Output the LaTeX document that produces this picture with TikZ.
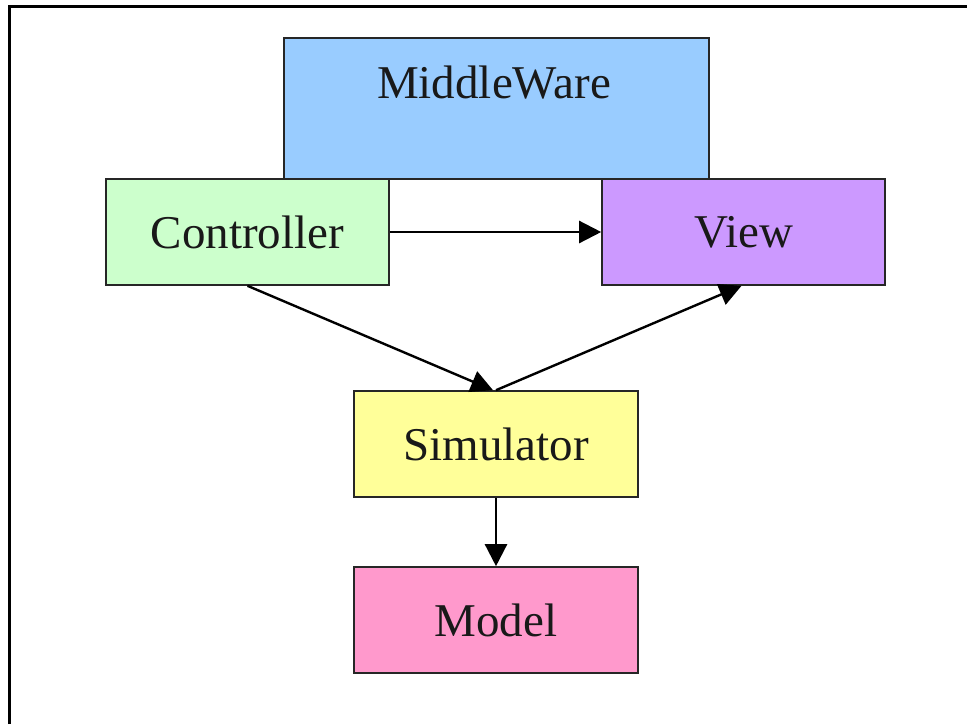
\documentclass[tikz,border=0pt]{standalone}
\usepackage{fontspec}
\setmainfont{Liberation Serif}
\usetikzlibrary{arrows.meta}
\definecolor{mwblue}{HTML}{99CCFF}
\definecolor{ctgreen}{HTML}{CCFFCC}
\definecolor{vwpurple}{HTML}{CC99FF}
\definecolor{smyellow}{HTML}{FFFF99}
\definecolor{mdpink}{HTML}{FF99CC}
\begin{document}
\begin{tikzpicture}[x=1pt,y=-1pt,
  box/.style={draw=black!85,line width=1.6pt,rectangle,inner sep=0pt},
  lbl/.style={font=\fontsize{47}{52}\selectfont,text=black!90},
  conn/.style={line width=2.4pt,-{Triangle[length=22pt,width=22pt]}}]
\useasboundingbox (0,0) rectangle (967,724);
\draw[line width=3pt] (9.5,724) -- (9.5,6.5) -- (967,6.5);
% boxes
\node[box,fill=mwblue,minimum width=425pt,minimum height=141pt] (mw) at (496.5,108.5) {};
\node[lbl] (mwt) at (494,83) {MiddleWare};
\node[box,fill=ctgreen,minimum width=283pt,minimum height=106pt,lbl] (ct) at (247.5,232) {Controller};
\node[box,fill=vwpurple,minimum width=283pt,minimum height=106pt,lbl] (vw) at (743.5,232) {View};
\node[box,fill=smyellow,minimum width=284pt,minimum height=106pt,lbl] (sm) at (496,444) {Simulator};
\node[box,fill=mdpink,minimum width=284pt,minimum height=106pt,lbl] (md) at (496,620) {Model};
% connectors
\draw[conn] (ct.east) -- (vw.west);
\coordinate (smtop) at ([xshift=-3pt]sm.north);
\draw[conn] (ct.south) -- (smtop);
\draw[conn] (sm.north) -- ([xshift=-2pt]vw.south);
\draw[conn] (sm.south) -- (md.north);
\end{tikzpicture}
\end{document}
